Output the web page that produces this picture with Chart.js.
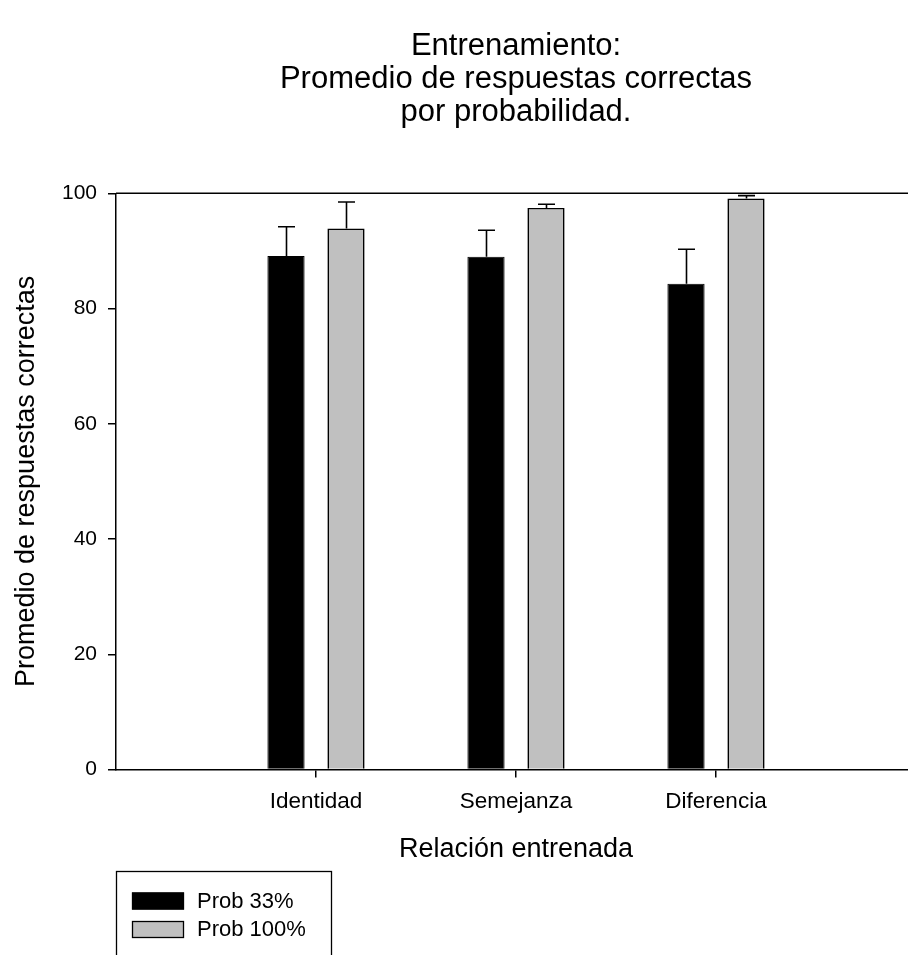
<!DOCTYPE html>
<html>
<head>
<meta charset="utf-8">
<title>Entrenamiento: Promedio de respuestas correctas por probabilidad</title>
<script src="https://cdn.jsdelivr.net/npm/chart.js@4/dist/chart.umd.min.js"></script>
<style>
  html, body { margin: 0; padding: 0; background: #fff; overflow: hidden; }
  canvas { display: block; }
</style>
</head>
<body>
<canvas id="chart" width="920" height="955"></canvas>
<script>
// Categories and series values (mean % correct and upper error)
const categories = ['Identidad', 'Semejanza', 'Diferencia'];
const seriesLabels = ['Prob 33%', 'Prob 100%'];
const prob33 = [89.1, 89.0, 84.3];
const prob33Err = [5.1, 4.6, 6.0];
const prob100 = [93.9, 97.45, 99.1];
const prob100Err = [4.6, 0.65, 0.5];
const yTicks = [0, 20, 40, 60, 80, 100];
const titleLines = ['Entrenamiento:', 'Promedio de respuestas correctas', 'por probabilidad.'];
const xTitle = 'Relación entrenada';
const yTitle = 'Promedio de respuestas correctas';

const FONT = "'Liberation Sans', Arial, Helvetica, sans-serif";

const toPoints = (vals) => vals.map((v, i) => ({ x: i + 1, y: v }));

// Upper error bars with caps
const errorBars = {
  id: 'errorBars',
  afterDatasetsDraw(chart) {
    const { ctx } = chart;
    const ys = chart.scales.y;
    chart.data.datasets.forEach((ds, di) => {
      const meta = chart.getDatasetMeta(di);
      meta.data.forEach((bar, i) => {
        const top = ys.getPixelForValue(ds.data[i].y + ds.errors[i]);
        const x = Math.round(bar.x) + 0.5;
        ctx.save();
        ctx.strokeStyle = '#000';
        ctx.lineWidth = 1.6;
        ctx.beginPath();
        ctx.moveTo(x, bar.y);
        ctx.lineTo(x, top);
        ctx.moveTo(x - 8.5, top);
        ctx.lineTo(x + 8.5, top);
        ctx.stroke();
        ctx.restore();
      });
    });
  }
};

// Frame line along the top of the plot, title and boxed legend
const decorations = {
  id: 'decorations',
  afterDraw(chart) {
    const { ctx, chartArea } = chart;
    ctx.save();
    // top frame line
    ctx.strokeStyle = '#000';
    ctx.lineWidth = 1.5;
    ctx.beginPath();
    ctx.moveTo(chartArea.left, chartArea.top);
    ctx.lineTo(chartArea.right, chartArea.top);
    ctx.stroke();

    // title, centred over the plot area
    ctx.fillStyle = '#000';
    ctx.font = '31px ' + FONT;
    ctx.textAlign = 'center';
    ctx.textBaseline = 'alphabetic';
    const cx = (chartArea.left + chartArea.right) / 2;
    titleLines.forEach((line, i) => ctx.fillText(line, cx, 55 + i * 33));

    // legend box
    const lx = 116.5, ly = 871.5;
    ctx.lineWidth = 1.3;
    ctx.strokeRect(lx, ly, 215, 120);
    ctx.font = '22px ' + FONT;
    ctx.textAlign = 'left';
    ctx.textBaseline = 'middle';
    chart.data.datasets.forEach((ds, i) => {
      const sy = 892.5 + i * 28.5;
      ctx.fillStyle = ds.backgroundColor;
      ctx.fillRect(132, sy, 52, 17);
      ctx.strokeStyle = '#000';
      ctx.lineWidth = 1.3;
      ctx.strokeRect(132.5, sy + 0.5, 51, 16);
      ctx.fillStyle = '#000';
      ctx.fillText(ds.label, 197, sy + 9);
    });
    ctx.restore();
  }
};

new Chart(document.getElementById('chart'), {
  type: 'bar',
  data: {
    datasets: [
      {
        label: seriesLabels[0],
        data: toPoints(prob33),
        errors: prob33Err,
        backgroundColor: '#000000',
        borderColor: '#000000',
        borderWidth: 1
      },
      {
        label: seriesLabels[1],
        data: toPoints(prob100),
        errors: prob100Err,
        backgroundColor: '#c0c0c0',
        borderColor: '#000000',
        borderWidth: 1.6,
        borderSkipped: 'start'
      }
    ]
  },
  options: {
    responsive: false,
    animation: false,
    events: [],
    categoryPercentage: 0.6,
    barPercentage: 0.62,
    layout: { padding: { top: 193.3, left: 0, right: 4, bottom: 85.5 } },
    plugins: {
      legend: { display: false },
      title: { display: false },
      tooltip: { enabled: false }
    },
    scales: {
      x: {
        type: 'linear',
        min: 0,
        max: 4,
        offset: false,
        afterBuildTicks(scale) {
          scale.ticks = categories.map((c, i) => ({ value: i + 1 }));
        },
        afterFit(scale) { scale.height = 100; },
        ticks: {
          color: '#000',
          font: { family: FONT, size: 22.5 },
          padding: 10.5,
          maxRotation: 0,
          autoSkip: false,
          callback: (v) => categories[v - 1] ?? ''
        },
        grid: {
          offset: false,
          drawOnChartArea: false,
          drawTicks: true,
          tickLength: 8,
          color: '#000',
          lineWidth: 1.5
        },
        border: { display: true, color: '#000', width: 1.5 },
        title: {
          display: true,
          text: xTitle,
          color: '#000',
          font: { family: FONT, size: 27, lineHeight: 1 },
          padding: { top: 0, bottom: 6 }
        }
      },
      y: {
        min: 0,
        max: 100,
        afterBuildTicks(scale) {
          scale.ticks = yTicks.map((v) => ({ value: v }));
        },
        afterFit(scale) { scale.width = 116; },
        ticks: {
          color: '#000',
          font: { family: FONT, size: 21 },
          padding: 11
        },
        grid: {
          drawOnChartArea: false,
          drawTicks: true,
          tickLength: 8,
          color: '#000',
          lineWidth: 1.5
        },
        border: { display: true, color: '#000', width: 1.5 },
        title: {
          display: true,
          text: yTitle,
          color: '#000',
          font: { family: FONT, size: 27, lineHeight: 1 },
          padding: { top: 13.5, bottom: 0 }
        }
      }
    }
  },
  plugins: [errorBars, decorations]
});
</script>
</body>
</html>
